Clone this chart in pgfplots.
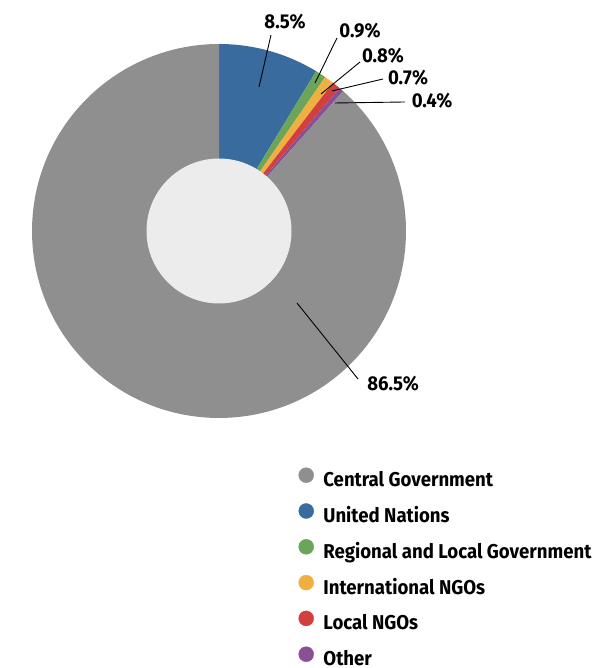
\documentclass[border=0pt]{standalone}
\usepackage{fontspec}
\setmainfont{Fira Sans}[FakeStretch=0.93]
\usepackage{pgfplots}
\pgfplotsset{compat=1.18}
\definecolor{cCG}{HTML}{8E8F8E}
\definecolor{cUN}{HTML}{3A6B9E}
\definecolor{cRG}{HTML}{6AA55A}
\definecolor{cIN}{HTML}{EFB041}
\definecolor{cLN}{HTML}{D1403C}
\definecolor{cOT}{HTML}{8A5096}
\definecolor{cHole}{HTML}{ECECEC}
% shares (percent), clockwise from 12 o'clock
\def\vUN{8.5}\def\vRG{0.9}\def\vIN{0.8}\def\vLN{0.7}\def\vOT{0.4}\def\vCG{86.5}
\pgfmathsetmacro\tot{\vUN+\vRG+\vIN+\vLN+\vOT+\vCG}
\pgfmathsetmacro\aA{90}
\pgfmathsetmacro\aB{\aA-\vUN/\tot*360}
\pgfmathsetmacro\aC{\aB-\vRG/\tot*360}
\pgfmathsetmacro\aD{\aC-\vIN/\tot*360}
\pgfmathsetmacro\aE{\aD-\vLN/\tot*360}
\pgfmathsetmacro\aF{\aE-\vOT/\tot*360}
\pgfmathsetmacro\aG{\aF-\vCG/\tot*360}
\newcommand\slice[3]{\fill[#3] (axis cs:219,437) -- ++(#1:187pt) arc[start angle=#1,end angle=#2,radius=187pt] -- cycle;}
\begin{document}
\begin{tikzpicture}
\begin{axis}[
  width=595pt, height=668pt, scale only axis,
  xmin=0, xmax=595, ymin=0, ymax=668,
  hide axis, clip=false,
  font=\fontsize{20}{21}\selectfont\bfseries,
  legend cell align=left,
  legend style={at={(axis cs:298.5,200.5)}, anchor=north west, draw=none, fill=none,
    inner sep=0pt, outer sep=0pt,
    font=\fontsize{20}{21}\selectfont\bfseries,
    nodes={inner sep=0pt, text height=13pt, text depth=3pt},
    row sep=13.6pt,
    /tikz/every odd column/.append style={column sep=9.5pt}},
  legend image code/.code={\fill[#1] (7.5pt,6.5pt) circle (7.5pt);},
]
\slice{\aA}{\aB}{cUN}
\slice{\aB}{\aC}{cRG}
\slice{\aC}{\aD}{cIN}
\slice{\aD}{\aE}{cLN}
\slice{\aE}{\aF}{cOT}
\slice{\aF}{\aG}{cCG}
\fill[cHole] (axis cs:219,437) circle (72.5pt);
% leader lines
\draw[black, line width=0.9pt] (axis cs:259,581) -- (axis cs:271,633);
\draw[black, line width=0.9pt] (axis cs:315,585) -- (axis cs:337,630);
\draw[black, line width=0.9pt] (axis cs:321,574) -- (axis cs:360,606);
\draw[black, line width=0.9pt] (axis cs:332,577) -- (axis cs:383,589);
\draw[black, line width=0.9pt] (axis cs:335,565) -- (axis cs:405,566);
\draw[black, line width=0.9pt] (axis cs:297,365) -- (axis cs:358,289);
\node at (axis cs:285,646) {\vUN\%};
\node at (axis cs:360,637) {\vRG\%};
\node at (axis cs:383,612) {\vIN\%};
\node at (axis cs:408,590) {\vLN\%};
\node at (axis cs:432,567) {\vOT\%};
\node at (axis cs:393,284) {\vCG\%};
\addlegendimage{cCG}\addlegendentry{Central Government}
\addlegendimage{cUN}\addlegendentry{United Nations}
\addlegendimage{cRG}\addlegendentry{Regional and Local Government}
\addlegendimage{cIN}\addlegendentry{International NGOs}
\addlegendimage{cLN}\addlegendentry{Local NGOs}
\addlegendimage{cOT}\addlegendentry{Other}
\end{axis}
\pgfresetboundingbox
\path (0,0) rectangle (595pt,668pt);
\end{tikzpicture}
\end{document}
